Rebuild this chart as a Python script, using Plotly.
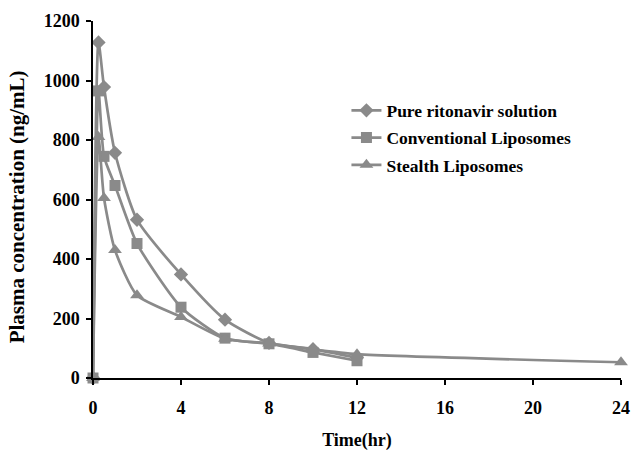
import plotly.graph_objects as go

time_pure = [0, 0.25, 0.5, 1, 2, 4, 6, 8, 10, 12]
pure = [0, 1128, 978, 757, 532, 348, 196, 118, 97, 68]

time_conv = [0, 0.25, 0.5, 1, 2, 4, 6, 8, 10, 12]
conv = [0, 965, 745, 647, 452, 238, 134, 115, 86, 58]

time_stealth = [0, 0.25, 0.5, 1, 2, 4, 6, 8, 10, 12, 24]
stealth = [0, 810, 605, 430, 278, 205, 132, 116, 96, 80, 53]

names = ["Pure ritonavir solution", "Conventional Liposomes", "Stealth Liposomes"]
x_ticks = [0, 4, 8, 12, 16, 20, 24]
y_ticks = [0, 200, 400, 600, 800, 1000, 1200]

gray = "#8a8a8a"
font = "Liberation Serif"

fig = go.Figure()
for i, (t, v, n, sym, sz) in enumerate([
    (time_pure, pure, names[0], "diamond", 11),
    (time_conv, conv, names[1], "square", 11),
    (time_stealth, stealth, names[2], "triangle-up", 12),
]):
    fig.add_trace(go.Scatter(
        x=t, y=v, name=n, mode="lines+markers", legendgroup=f"g{i}",
        line=dict(color=gray, width=2.7, shape="spline", smoothing=0.6),
        marker=dict(symbol=sym, size=sz, color=gray),
        cliponaxis=False,
    ))

fig.add_annotation(
    text="Plasma concentration (ng/mL)", textangle=-90,
    xref="paper", yref="paper", x=0, y=0.478,
    xanchor="center", yanchor="middle", xshift=-76, showarrow=False,
    font=dict(family=font, size=21, color="black", weight="bold"),
)

fig.update_layout(
    width=633, height=451,
    margin=dict(l=93, r=12, t=21, b=73),
    paper_bgcolor="white", plot_bgcolor="white",
    font=dict(family=font, color="black", size=18),
    showlegend=True,
    legend=dict(
        x=0.48, y=0.80, xanchor="left", yanchor="top",
        font=dict(family=font, size=17.5, color="black", weight="bold"),
        bgcolor="rgba(0,0,0,0)", itemwidth=30,
        traceorder="grouped", tracegroupgap=1.5,
    ),
    xaxis=dict(
        range=[0, 24], tickvals=x_ticks, ticktext=[str(v) for v in x_ticks],
        showline=True, linecolor="black", linewidth=1.5,
        ticks="outside", ticklen=5, tickcolor="black", tickwidth=1.5,
        showgrid=False, zeroline=False, automargin=False,
        ticklabelstandoff=8,
        tickfont=dict(family=font, size=18, color="black", weight="bold"),
        title=dict(text="Time(hr)", standoff=22,
                   font=dict(family=font, size=18, color="black", weight="bold")),
    ),
    yaxis=dict(
        range=[0, 1200], tickvals=y_ticks, ticktext=[str(v) for v in y_ticks],
        showline=True, linecolor="black", linewidth=1.5,
        ticks="outside", ticklen=5, tickcolor="black", tickwidth=1.5,
        showgrid=False, zeroline=False, automargin=False,
        ticklabelstandoff=3,
        tickfont=dict(family=font, size=18, color="black", weight="bold"),
    ),
)

fig.write_html("out.html")
